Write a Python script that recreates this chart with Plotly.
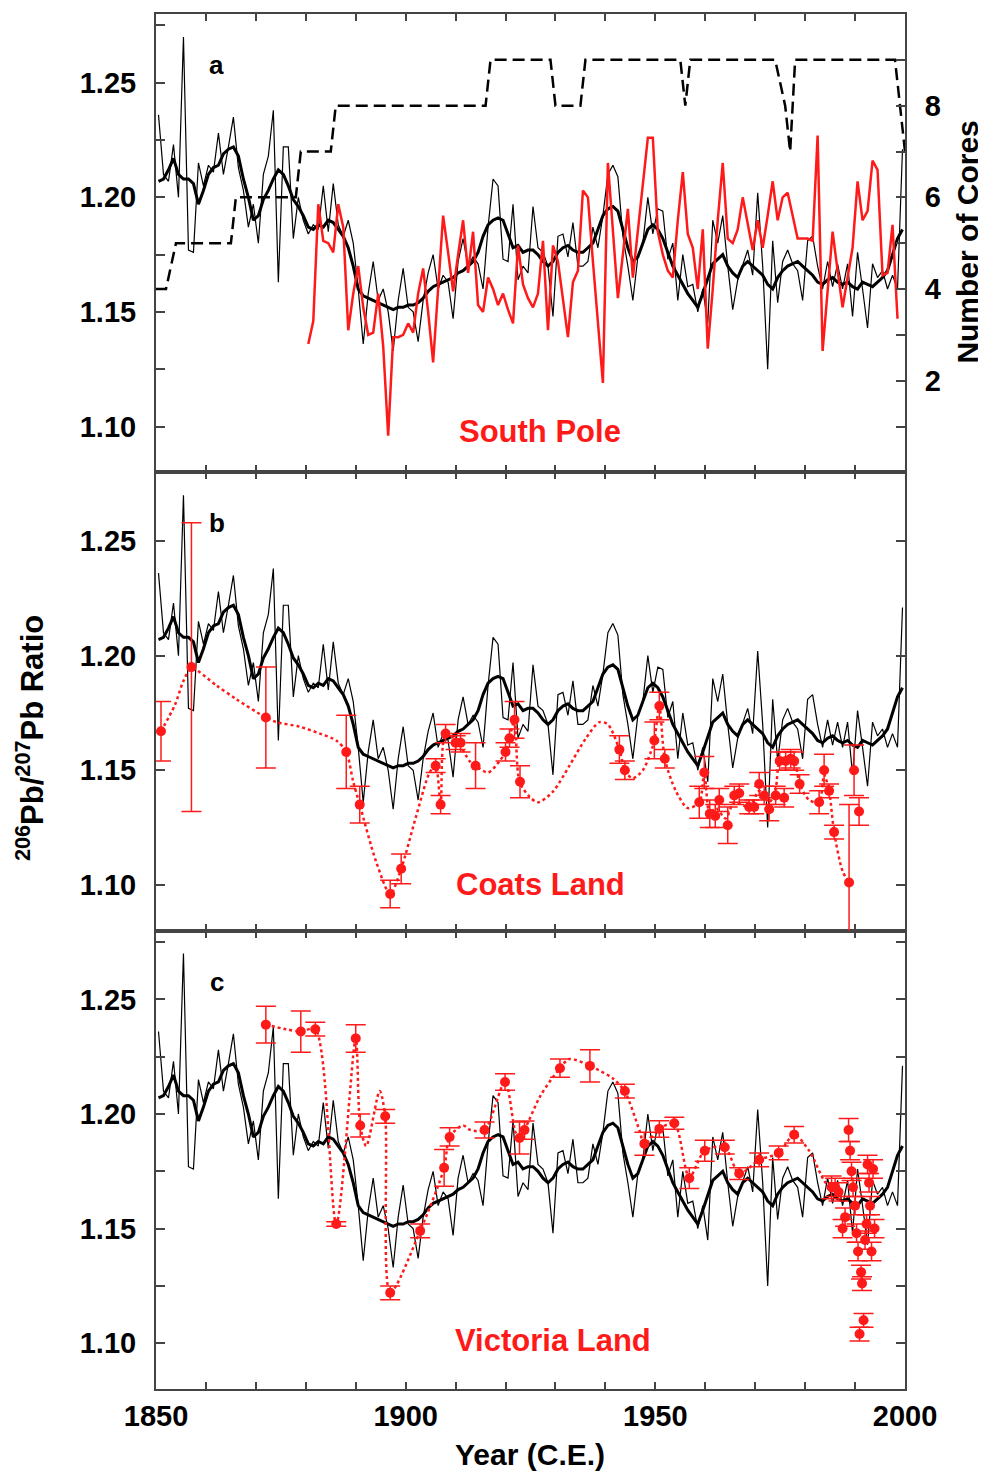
import plotly.graph_objects as go

# ---------------- data ----------------
annual_start = 1850.5
thin_ratio = [
    1.236, 1.210, 1.207, 1.223, 1.200, 1.270, 1.177, 1.176, 1.215, 1.205,
    1.214, 1.211, 1.228, 1.210, 1.222, 1.235, 1.213, 1.203, 1.187, 1.197,
    1.180, 1.210, 1.218, 1.238, 1.163, 1.222, 1.222, 1.182, 1.200, 1.190,
    1.184, 1.188, 1.186, 1.205, 1.185, 1.206, 1.188, 1.183, 1.190, 1.180,
    1.160, 1.136, 1.158, 1.172, 1.155, 1.160, 1.150, 1.133, 1.155, 1.169,
    1.152, 1.150, 1.137, 1.155, 1.167, 1.175, 1.160, 1.166, 1.163, 1.147,
    1.172, 1.182, 1.170, 1.174, 1.171, 1.160, 1.187, 1.208, 1.205, 1.173,
    1.172, 1.197, 1.164, 1.170, 1.167, 1.196, 1.178, 1.176, 1.170, 1.148,
    1.183, 1.184, 1.174, 1.189, 1.170, 1.170, 1.172, 1.187, 1.178, 1.192,
    1.210, 1.214, 1.209, 1.183, 1.170, 1.155, 1.174, 1.180, 1.200, 1.184,
    1.195, 1.194, 1.173, 1.180, 1.155, 1.175, 1.161, 1.162, 1.150, 1.160,
    1.145, 1.190, 1.180, 1.192, 1.170, 1.151, 1.164, 1.171, 1.177, 1.166,
    1.202, 1.170, 1.125, 1.181, 1.154, 1.172, 1.177, 1.171, 1.168, 1.155,
    1.181, 1.183, 1.170, 1.160, 1.172, 1.161, 1.171, 1.160, 1.171, 1.148,
    1.176, 1.160, 1.143, 1.171, 1.165, 1.168, 1.160, 1.166, 1.160, 1.221,
]
thick_ratio = [
    1.207, 1.208, 1.212, 1.217, 1.210, 1.208, 1.208, 1.206, 1.197, 1.203,
    1.210, 1.213, 1.214, 1.219, 1.221, 1.222, 1.218, 1.208, 1.200, 1.190,
    1.192, 1.199, 1.203, 1.208, 1.212, 1.210, 1.205, 1.199, 1.196, 1.192,
    1.187, 1.186, 1.188, 1.187, 1.190, 1.189, 1.186, 1.183, 1.178, 1.170,
    1.160, 1.157, 1.156, 1.155, 1.154, 1.153, 1.152, 1.151, 1.152, 1.152,
    1.153, 1.153, 1.154, 1.156, 1.159, 1.161, 1.162, 1.163, 1.164, 1.165,
    1.167, 1.168, 1.170, 1.172, 1.176, 1.183, 1.188, 1.190, 1.191, 1.190,
    1.184, 1.178, 1.179, 1.176, 1.177, 1.177, 1.175, 1.172, 1.170, 1.172,
    1.176, 1.178, 1.179, 1.177, 1.176, 1.176, 1.178, 1.180, 1.186, 1.192,
    1.195, 1.196, 1.194, 1.186, 1.178, 1.172, 1.174, 1.180, 1.186, 1.188,
    1.186, 1.182, 1.176, 1.170, 1.166, 1.162, 1.158, 1.155, 1.152, 1.158,
    1.165, 1.171, 1.173, 1.175, 1.170, 1.167, 1.165, 1.170, 1.172, 1.170,
    1.168, 1.166, 1.162, 1.160, 1.165, 1.168, 1.170, 1.171, 1.172, 1.170,
    1.168, 1.166, 1.163, 1.162, 1.164, 1.165, 1.163, 1.162, 1.163, 1.161,
    1.160, 1.163, 1.162, 1.161, 1.163, 1.165, 1.168, 1.175, 1.182, 1.186,
]

south_pole_start = 1880.5
south_pole_ratio = [
    1.136, 1.146, 1.197, 1.181, 1.180, 1.176, 1.197, 1.187, 1.142, 1.158,
    1.170, 1.152, 1.140, 1.141, 1.158, 1.135, 1.096, 1.139, 1.139, 1.140,
    1.145, 1.141, 1.158, 1.169, 1.150, 1.128, 1.160, 1.192, 1.176, 1.159,
    1.175, 1.190, 1.167, 1.185, 1.153, 1.150, 1.165, 1.160, 1.153, 1.158,
    1.151, 1.145, 1.179, 1.162, 1.156, 1.152, 1.158, 1.181, 1.142, 1.179,
    1.172, 1.155, 1.139, 1.163, 1.168, 1.203, 1.200, 1.172, 1.145, 1.119,
    1.215, 1.185, 1.156, 1.175, 1.195, 1.165, 1.185, 1.205, 1.226, 1.226,
    1.185, 1.175, 1.168, 1.165, 1.190, 1.211, 1.184, 1.178, 1.160, 1.186,
    1.134, 1.160, 1.190, 1.215, 1.182, 1.180, 1.186, 1.200, 1.188, 1.177,
    1.190, 1.178, 1.192, 1.207, 1.190, 1.200, 1.202, 1.192, 1.182, 1.182,
    1.182, 1.181, 1.227, 1.133, 1.160, 1.185, 1.168, 1.152, 1.165, 1.178,
    1.207, 1.190, 1.194, 1.216, 1.212, 1.166, 1.167, 1.188, 1.147,
]

core_years = [1850, 1852, 1854, 1865, 1866, 1878, 1879, 1885, 1886, 1916, 1917,
              1929, 1930, 1935, 1936, 1955, 1956, 1957, 1974, 1976, 1977, 1978,
              1998, 2000]
core_counts = [4, 4, 5, 5, 6, 6, 7, 7, 8, 8, 9,
               9, 8, 8, 9, 9, 8, 9, 9, 8, 7, 9,
               9, 7]

coats_years = [1851.0, 1857.1, 1872.0, 1888.1, 1890.8, 1896.9, 1899.1, 1906.0, 1907.0,
               1908.0, 1910.0, 1911.0, 1914.0, 1920.0, 1920.8, 1921.8, 1922.9, 1942.8,
               1943.9, 1949.8, 1950.8, 1951.9, 1958.8, 1959.8, 1960.9, 1962.0, 1962.8,
               1964.5, 1965.8, 1966.8, 1968.8, 1969.8, 1970.8, 1971.8, 1972.8, 1974.1,
               1974.9, 1975.8, 1976.1, 1977.1, 1977.8, 1978.9, 1982.8, 1983.8, 1984.8,
               1985.8, 1988.8, 1989.8, 1990.8]
coats_ratio = [1.167, 1.195, 1.173, 1.158, 1.135, 1.096, 1.107, 1.152, 1.135,
               1.166, 1.162, 1.162, 1.152, 1.158, 1.164, 1.172, 1.145, 1.159,
               1.150, 1.163, 1.178, 1.155, 1.136, 1.149, 1.131, 1.130, 1.137,
               1.126, 1.139, 1.140, 1.134, 1.134, 1.144, 1.139, 1.133, 1.139,
               1.154, 1.138, 1.154, 1.155, 1.154, 1.144, 1.136, 1.150, 1.141,
               1.123, 1.101, 1.150, 1.132]
coats_err = [0.013, 0.063, 0.022, 0.016, 0.008, 0.006, 0.0065, 0.003, 0.004,
             0.004, 0.003, 0.004, 0.010, 0.004, 0.004, 0.008, 0.007, 0.006,
             0.004, 0.008, 0.006, 0.004, 0.007, 0.007, 0.006, 0.005, 0.005,
             0.008, 0.004, 0.004, 0.003, 0.003, 0.005, 0.004, 0.005, 0.004,
             0.004, 0.004, 0.004, 0.004, 0.004, 0.004, 0.005, 0.007, 0.003,
             0.003, 0.034, 0.011, 0.006]

coats_curve_years = [1851.0, 1853.8, 1855.5, 1857.1, 1862.1, 1866.1, 1872.0, 1874.1, 1878.8,
                     1882.8, 1886.1, 1888.1, 1889.5, 1890.8, 1894.1, 1896.9, 1899.1, 1902.1,
                     1904.8, 1906.0, 1907.0, 1908.0, 1910.5, 1912.8, 1914.0, 1916.5, 1918.8,
                     1920.0, 1920.8, 1921.8, 1922.8, 1924.8, 1926.5, 1929.5, 1932.8, 1936.1,
                     1938.8, 1940.5, 1942.8, 1944.1, 1945.5, 1947.5, 1949.1, 1949.8, 1950.8,
                     1951.9, 1954.1, 1956.5, 1958.8, 1959.8, 1960.9, 1962.1, 1964.1, 1965.8,
                     1968.8, 1970.8, 1972.8, 1974.1, 1974.9, 1976.1, 1977.8, 1978.9, 1980.8,
                     1982.8, 1983.8, 1984.8, 1985.8, 1987.5, 1988.8]
coats_curve_ratio = [1.167, 1.1785, 1.189, 1.1945, 1.187, 1.181, 1.173, 1.171, 1.169,
                     1.166, 1.163, 1.158, 1.145, 1.135, 1.110, 1.096, 1.107, 1.130,
                     1.149, 1.152, 1.135, 1.166, 1.162, 1.154, 1.152, 1.149, 1.154,
                     1.158, 1.164, 1.172, 1.145, 1.1385, 1.136, 1.1407, 1.152, 1.164,
                     1.171, 1.170, 1.159, 1.149, 1.1465, 1.150, 1.158, 1.163, 1.178,
                     1.155, 1.141, 1.1335, 1.136, 1.149, 1.131, 1.1335, 1.129, 1.136,
                     1.134, 1.141, 1.136, 1.142, 1.154, 1.155, 1.154, 1.144, 1.137,
                     1.136, 1.148, 1.141, 1.123, 1.106, 1.101]

victoria_years = [1872.0, 1879.0, 1881.9, 1886.1, 1890.0, 1890.9, 1895.9, 1896.9, 1902.9,
                  1907.7, 1908.8, 1915.8, 1919.9, 1922.8, 1923.8, 1930.9, 1936.9, 1943.9,
                  1947.8, 1950.8, 1953.8, 1956.8, 1959.9, 1963.9, 1966.8, 1970.8, 1974.7,
                  1977.8, 1985.3, 1986.0, 1986.7, 1987.5, 1988.0, 1988.7, 1989.0, 1989.3,
                  1989.6, 1990.0, 1990.3, 1990.6, 1990.9, 1991.2, 1991.4, 1991.7, 1992.0,
                  1992.3, 1992.5, 1992.8, 1993.0, 1993.3, 1993.6, 1993.9]
victoria_ratio = [1.239, 1.236, 1.237, 1.152, 1.233, 1.195, 1.199, 1.122, 1.149,
                  1.1765, 1.190, 1.193, 1.214, 1.1895, 1.193, 1.220, 1.221, 1.210,
                  1.187, 1.1935, 1.196, 1.172, 1.184, 1.1855, 1.174, 1.180, 1.183,
                  1.191, 1.168, 1.168, 1.166, 1.150, 1.155, 1.193, 1.184, 1.175,
                  1.168, 1.160, 1.148, 1.140, 1.104, 1.131, 1.126, 1.110, 1.145,
                  1.152, 1.178, 1.170, 1.160, 1.140, 1.176, 1.150]
victoria_err = [0.008, 0.009, 0.003, 0.001, 0.006, 0.005, 0.003, 0.003, 0.003,
                0.008, 0.004, 0.0035, 0.0036, 0.007, 0.004, 0.004, 0.007, 0.003,
                0.005, 0.0036, 0.0026, 0.0045, 0.0046, 0.003, 0.0026, 0.003, 0.003,
                0.0036, 0.005, 0.004, 0.004, 0.004, 0.004, 0.005, 0.004, 0.004,
                0.004, 0.004, 0.004, 0.004, 0.003, 0.003, 0.003, 0.003, 0.004,
                0.004, 0.004, 0.004, 0.004, 0.004, 0.004, 0.004]

victoria_curve_years = [1872.0, 1876.0, 1879.0, 1881.9, 1886.1, 1890.0, 1890.9, 1892.1, 1894.8,
                        1895.9, 1896.9, 1902.9, 1907.7, 1908.8, 1911.5, 1913.0, 1915.8, 1919.9,
                        1922.0, 1922.8, 1923.8, 1927.0, 1930.9, 1932.8, 1936.9, 1941.5, 1943.9,
                        1946.8, 1947.8, 1950.8, 1953.8, 1956.8, 1959.9, 1963.9, 1966.8, 1970.8,
                        1974.7, 1977.8, 1980.8, 1984.1, 1985.5]
victoria_curve_ratio = [1.239, 1.237, 1.236, 1.237, 1.152, 1.233, 1.195, 1.186, 1.210,
                        1.199, 1.122, 1.149, 1.1765, 1.190, 1.195, 1.193, 1.193, 1.214,
                        1.192, 1.1895, 1.193, 1.208, 1.220, 1.224, 1.221, 1.2155, 1.2097,
                        1.193, 1.187, 1.1935, 1.196, 1.1724, 1.184, 1.1855, 1.174, 1.180,
                        1.183, 1.191, 1.184, 1.170, 1.168]

x_tick_vals = [1850, 1860, 1870, 1880, 1890, 1900, 1910, 1920, 1930, 1940,
               1950, 1960, 1970, 1980, 1990, 2000]
x_tick_text = ["1850", "", "", "", "", "1900", "", "", "", "",
               "1950", "", "", "", "", "2000"]
y_tick_vals = [1.10, 1.125, 1.15, 1.175, 1.20, 1.225, 1.25, 1.275]
y_tick_text = ["1.10", "", "1.15", "", "1.20", "", "1.25", ""]
y_major_vals = [1.10, 1.15, 1.20, 1.25]
y_major_text = ["1.10", "1.15", "1.20", "1.25"]
core_tick_vals = [1, 2, 3, 4, 5, 6, 7, 8, 9]
core_tick_text = ["", "2", "", "4", "", "6", "", "8", ""]

# ---------------- figure ----------------
RED = "#ff1a1a"
FONT = "Liberation Sans, Arial, sans-serif"
annual_years = [annual_start + i for i in range(len(thin_ratio))]
sp_years = [south_pole_start + i for i in range(len(south_pole_ratio))]

fig = go.Figure()

# panel a (top): cores on y3 (base), ratio on y4 (overlay, drawn on top)
fig.add_trace(go.Scatter(x=core_years, y=core_counts, xaxis="x3", yaxis="y3",
                         mode="lines", line=dict(color="black", width=2.5, dash="12px,6px")))
for ya, xa in (("y4", "x3"), ("y2", "x2"), ("y", "x")):
    fig.add_trace(go.Scatter(x=annual_years, y=thin_ratio, xaxis=xa, yaxis=ya,
                             mode="lines", line=dict(color="black", width=1.2)))
    fig.add_trace(go.Scatter(x=annual_years, y=thick_ratio, xaxis=xa, yaxis=ya,
                             mode="lines", line=dict(color="black", width=3)))

fig.add_trace(go.Scatter(x=sp_years, y=south_pole_ratio, xaxis="x3", yaxis="y4",
                         mode="lines", line=dict(color=RED, width=2.5)))

# panel b
fig.add_trace(go.Scatter(x=coats_curve_years, y=coats_curve_ratio, xaxis="x2", yaxis="y2",
                         mode="lines", line=dict(color=RED, width=2.5, dash="dot",
                                                 shape="spline", smoothing=0.8)))
fig.add_trace(go.Scatter(x=coats_years, y=coats_ratio, xaxis="x2", yaxis="y2",
                         mode="markers", marker=dict(color=RED, size=10),
                         error_y=dict(type="data", array=coats_err, visible=True,
                                      color=RED, thickness=1.5, width=10)))
# panel c
fig.add_trace(go.Scatter(x=victoria_curve_years, y=victoria_curve_ratio, xaxis="x", yaxis="y",
                         mode="lines", line=dict(color=RED, width=2.5, dash="dot",
                                                 shape="spline", smoothing=0.8)))
fig.add_trace(go.Scatter(x=victoria_years, y=victoria_ratio, xaxis="x", yaxis="y",
                         mode="markers", marker=dict(color=RED, size=10),
                         error_y=dict(type="data", array=victoria_err, visible=True,
                                      color=RED, thickness=1.5, width=10)))

AX = dict(showline=True, linecolor="#444", linewidth=2, showgrid=False, zeroline=False,
          ticks="inside", tickcolor="#444", tickwidth=1.5)
tickfont = dict(family=FONT, size=29, color="black", weight="bold")

xcommon = dict(AX, range=[1850, 2000], tickmode="array", tickvals=x_tick_vals,
               ticktext=x_tick_text, ticklen=7, mirror="ticks")
ycommon = dict(AX, range=[1.08, 1.28], tickmode="array", ticklen=9, tickfont=tickfont,
               ticklabelstandoff=12)

# the page body has an 8px margin: the figure is sized so that the plot area
# lands at x 156..905, y 12..1389 of the 986x1473 window
fig.update_layout(
    width=978, height=1465,
    margin=dict(l=148, r=81, t=4, b=84),
    paper_bgcolor="white", plot_bgcolor="white",
    showlegend=False,
    xaxis=dict(xcommon, anchor="y", tickfont=tickfont, ticklabelstandoff=0),
    xaxis2=dict(xcommon, anchor="y2", matches="x", showticklabels=False),
    xaxis3=dict(xcommon, anchor="y3", matches="x", showticklabels=False),
    yaxis=dict(ycommon, domain=[0, 1 / 3], anchor="x", tickvals=y_tick_vals,
               ticktext=y_tick_text, mirror="ticks"),
    yaxis2=dict(ycommon, domain=[1 / 3, 2 / 3], anchor="x2", tickvals=y_major_vals,
                ticktext=y_major_text, mirror="ticks"),
    yaxis3=dict(AX, domain=[2 / 3, 1], anchor="x3", side="right", range=[0, 10],
                tickmode="array", tickvals=core_tick_vals, ticktext=core_tick_text,
                ticklen=9, tickfont=tickfont, ticklabelstandoff=12, mirror=True),
    yaxis4=dict(ycommon, overlaying="y3", anchor="x3", side="left",
                tickvals=y_tick_vals, ticktext=y_tick_text, mirror=True),
)

def label(text, x, y, size=26, color="black", angle=0):
    fig.add_annotation(text=text, x=x, y=y, xref="paper", yref="paper",
                       xanchor="center", yanchor="middle", showarrow=False,
                       textangle=angle,
                       font=dict(family=FONT, size=size, color=color, weight="bold"))

label("a", 0.0814, 0.963, 26)
label("b", 0.0814, 0.6296, 26)
label("c", 0.0814, 0.2963, 26)
label("South Pole", 0.5127, 0.6964, 31, RED)
label("Coats Land", 0.5127, 0.3667, 31, RED)
label("Victoria Land", 0.530, 0.0356, 31, RED)
label("Year (C.E.)", 0.4993, -0.0479, 30)
label("<sup>206</sup>Pb/<sup>207</sup>Pb Ratio", -0.168, 0.4735, 31, angle=-90)
label("Number of Cores", 1.084, 0.8344, 30, angle=-90)

fig.write_html("out.html")
